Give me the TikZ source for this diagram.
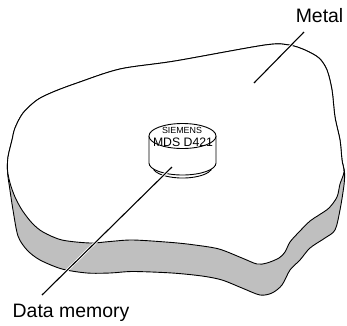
\documentclass[tikz,border=0pt]{standalone}
\usepackage{fontspec}
\newfontfamily\labelfont{Liberation Sans}
\begin{document}
\begin{tikzpicture}[x=1bp,y=-1bp,
  outline/.style={draw=black, line width=0.9bp, line join=round},
  sideband/.style={fill=black!25},
  leader/.style={draw=black, line width=1.1bp},
  halo/.style={draw=white, line width=2.8bp},
  label/.style={font=\labelfont\fontsize{19.5}{22}\selectfont, inner sep=0pt},
  chiptext/.style={inner sep=0pt, font=\labelfont}]
\useasboundingbox (0,0) rectangle (347,326);

% whole slab (side band shows through below the top face)
\path[sideband, outline] plot[smooth cycle, tension=0.5] coordinates {
  (8,157) (12,140) (15,128) (23,113) (37,100) (53,92) (77,83) (120,69)
  (175,61) (265,45) (289,45) (305,50) (319,58) (327,70) (332,90) (335,117)
  (340,140) (342,160) (344.5,172) (344,185) (340,210) (335,230) (325,238)
  (310,248) (300,260) (290,270) (282,285) (272,293) (260,295) (242,288)
  (222,280) (202,276) (172,273) (133,271.5) (110,273) (87,273) (62,269)
  (40,260) (27,250) (18,236) (13,210) (9.5,187) (7.5,172)};

% top face
\path[fill=white, outline] plot[smooth cycle, tension=0.5] coordinates {
  (8,157) (12,140) (15,128) (23,113) (37,100) (53,92) (77,83) (120,69)
  (175,61) (265,45) (289,45) (305,50) (319,58) (327,70) (332,90) (335,117)
  (340,140) (342,160) (344,172) (340,184) (337,197) (329,208) (319,215)
  (310,221) (299,232) (290,242) (285,252) (279,258) (267,263) (257,264)
  (242,258) (219,249) (195,245) (172,242.5) (133,240) (110,241.5) (90,243)
  (62,240) (43,232) (32,223) (22,210) (15,197) (10,183) (7.5,170)};

% data memory disc: foot ring, body, top face
\draw[outline, fill=white] (153.5,169.5) arc[start angle=195, end angle=345, x radius=30bp, y radius=11.5bp];
\draw[outline, fill=white] (149,136) -- (149,163)
  arc[start angle=180, end angle=360, x radius=33.5bp, y radius=12bp] -- (216,136);
\draw[outline, fill=white] (182.5,136) ellipse [x radius=33.5bp, y radius=12.5bp];
\node[chiptext, font=\labelfont\fontsize{8.9}{10}\selectfont, anchor=base] (brand) at (182,133) {SIEMENS};
\node[chiptext, font=\labelfont\fontsize{12.3}{14}\selectfont, anchor=base] (type) at (183,146.5) {MDS D421};

% labels and leaders
\node[label, anchor=base east] (metal) at (343.5,22.7) {Metal};
\node[label, anchor=base west] (memory) at (12.5,317) {Data memory};
\coordinate (metalend) at (304,32);
\coordinate (metalpt) at (254,83);
\coordinate (memend) at (42,295);
\coordinate (mempt) at (172,167);
\draw[halo] (metalend) -- (metalpt);
\draw[leader] (metalend) -- (metalpt);
\draw[halo] (memend) -- (mempt);
\draw[leader] (memend) -- (mempt);
\end{tikzpicture}
\end{document}
